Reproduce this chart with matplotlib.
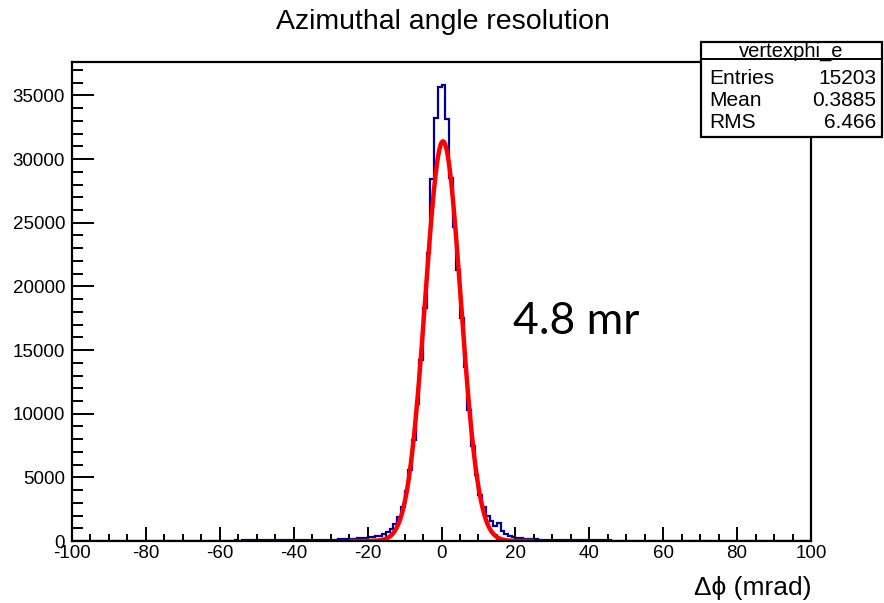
import numpy as np
import matplotlib.pyplot as plt
from matplotlib.patches import Rectangle
from matplotlib.lines import Line2D
from matplotlib.ticker import MultipleLocator

plt.rcParams['font.family'] = ['Liberation Sans', 'DejaVu Sans']
plt.rcParams['axes.unicode_minus'] = False

# --- dados do histograma (contagens por bin de 1 mrad) ---
bin_edges = np.arange(-100, 101, 1)

# bins -100 .. -26
cauda_esq = [10, 12, 8, 10, 14, 10, 12, 10, 15, 12,
             14, 12, 16, 14, 12, 18, 15, 14, 16, 18,
             18, 20, 16, 22, 20, 18, 24, 20, 22, 25,
             24, 26, 22, 28, 30, 26, 28, 32, 30, 34,
             32, 36, 34, 38, 40, 36, 42, 40, 44, 46,
             44, 48, 50, 52, 48, 55, 58, 54, 60, 62,
             64, 70, 66, 72, 76, 80, 78, 86, 90, 96,
             100, 110, 120, 130, 145]
# bins -25 .. 24
nucleo = [160, 180, 200, 240, 260, 300, 330, 380, 420, 520,
          700, 950, 1300, 1900, 2700, 3900, 5600, 7900, 10800, 14200,
          18300, 22600, 28460, 33220, 35650,
          35840, 33170, 28490, 24700, 21300, 17500, 13700, 10300, 7500, 5200,
          3600, 2700, 2000, 1600, 1150, 1450, 800, 520, 380, 300,
          250, 210, 180, 160, 140]
# bins 25 .. 99
cauda_dir = [125, 115, 105, 100, 92, 88, 80, 76, 72, 68,
             64, 60, 62, 56, 52, 50, 48, 46, 44, 42,
             40, 38, 36, 38, 34, 32, 30, 32, 28, 28,
             26, 27, 24, 25, 22, 24, 20, 22, 20, 18,
             20, 18, 16, 18, 15, 16, 14, 16, 14, 12,
             14, 12, 13, 11, 12, 10, 12, 10, 11, 9,
             10, 9, 11, 8, 10, 9, 8, 10, 8, 9,
             8, 7, 9, 8, 7]
contagens = np.array(cauda_esq + nucleo + cauda_dir)

# parametros do ajuste gaussiano
amp_fit = 31400
media_fit = 0.4
sigma_fit = 4.8
faixa_fit = (-25, 25)

stats_nome = "vertexphi_e"
stats_linhas = [("Entries", "15203"), ("Mean", "0.3885"), ("RMS", "6.466")]

W, H = 884, 603
fig = plt.figure(figsize=(W / 100, H / 100), dpi=100)
ax = fig.add_axes([72 / W, 1 - 541 / H, (811 - 72) / W, (541 - 62) / H])

ax.stairs(contagens, bin_edges, color='#000099', linewidth=1.6)

xf = np.linspace(faixa_fit[0], faixa_fit[1], 500)
yf = amp_fit * np.exp(-0.5 * ((xf - media_fit) / sigma_fit) ** 2)
ax.plot(xf, yf, color='#ff0000', linewidth=3.2, solid_capstyle='butt')

ax.set_xlim(-100, 100)
ax.set_ylim(0, 37630)
ax.xaxis.set_major_locator(MultipleLocator(20))
ax.xaxis.set_minor_locator(MultipleLocator(5))
ax.yaxis.set_major_locator(MultipleLocator(5000))
ax.yaxis.set_minor_locator(MultipleLocator(1000))
ax.tick_params(axis='x', which='major', direction='in', length=10, width=1.4,
               labelsize=13.5, pad=3)
ax.tick_params(axis='x', which='minor', direction='in', length=5, width=1.4)
ax.tick_params(axis='y', which='major', direction='in', length=16, width=1.4,
               labelsize=13.5, pad=5)
ax.tick_params(axis='y', which='minor', direction='in', length=8, width=1.4)
for s in ax.spines.values():
    s.set_linewidth(1.6)

fig.text(443 / W, 1 - 22 / H, "Azimuthal angle resolution", ha='center', va='center',
         fontsize=20.5)
fig.text(811 / W, 1 - 588 / H, "Δϕ (mrad)", ha='right', va='center', fontsize=19)
ax.text(513 / W, 1 - 322 / H, "4.8 mr", transform=fig.transFigure, ha='left',
        va='center', fontsize=32, family=['Lato', 'DejaVu Sans'])

# caixa de estatisticas estilo ROOT
bx0, bx1, by0, by1 = 701, 882, 42, 137
fig.add_artist(Rectangle((bx0 / W, 1 - by1 / H), (bx1 - bx0) / W, (by1 - by0) / H,
                         transform=fig.transFigure, facecolor='white',
                         edgecolor='black', linewidth=1.6, zorder=10))
fig.add_artist(Line2D([bx0 / W, bx1 / W], [1 - 59 / H, 1 - 59 / H],
                      transform=fig.transFigure, color='black', linewidth=1.4, zorder=11))
fig.text((bx0 + bx1) / 2 / W, 1 - 51 / H, stats_nome, ha='center', va='center',
         fontsize=14.5, zorder=12)
for i, (rot, val) in enumerate(stats_linhas):
    yy = 1 - (78 + 22 * i) / H
    fig.text(709 / W, yy, rot, ha='left', va='center', fontsize=15, zorder=12)
    fig.text(876 / W, yy, val, ha='right', va='center', fontsize=15, zorder=12)

fig.savefig('out.png', dpi=100)
